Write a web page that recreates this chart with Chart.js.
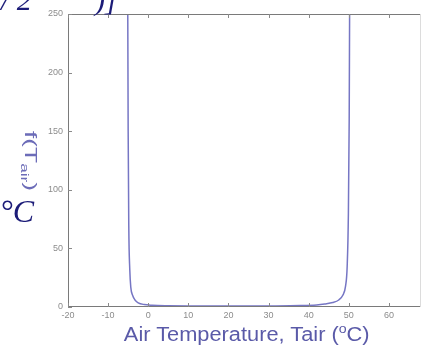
<!DOCTYPE html>
<html>
<head>
<meta charset="utf-8">
<script src="https://cdn.jsdelivr.net/npm/chart.js@4.4.1/dist/chart.umd.min.js"></script>
<style>
  html, body { margin: 0; padding: 0; background: #fff; overflow: hidden; }
  #wrap { position: relative; width: 423px; height: 353px; }
  canvas { position: absolute; left: 0; top: 0; }
  .eq { position: absolute; font-family: "Liberation Serif", "DejaVu Serif", serif; font-style: italic; color: #1c1c78; white-space: nowrap; }
  #ylab { position: absolute; left: 40px; top: 131px; font-family: "Liberation Sans", Arial, sans-serif; font-size: 17px; line-height: 20px; color: #6c6cb8; transform-origin: 0 0; transform: rotate(90deg) scaleX(1.55); white-space: nowrap; }
  #ylab sub { font-size: 11px; }
  #xlab { position: absolute; left: 0; width: 423px; top: 321px; padding-left: 70px; box-sizing: border-box; text-align: center; font-family: "Liberation Sans", Arial, sans-serif; font-size: 20px; color: #5a5aa8; white-space: nowrap; }
  #xlab span { display: inline-block; transform: scaleX(1.09); }
  #xlab sup { font-size: 13px; }
</style>
</head>
<body>
<div id="wrap">
  <canvas id="c" width="423" height="353"></canvas>
  <div class="eq" style="left:1px; top:-17px; font-size:30px;">/ 2</div>
  <div class="eq" style="left:95px; top:-17px; font-size:30px;">)]</div>
  <div class="eq" style="left:0px; top:193px; font-size:32px;">°C</div>
  <div id="ylab">f(T<sub>air</sub>)</div>
  <div id="xlab"><span>Air Temperature, Tair (<sup>o</sup>C)</span></div>
</div>
<script>
const airTemp = [-5.2, -5.1, -5.0, -4.85, -4.6, -4.35, -3.9, -3.3, -2.5, -1.0, 1.0, 5, 10, 20, 30, 38, 42, 44, 46, 47.5, 48.5, 49.2, 49.6, 49.9, 50.1, 50.2, 50.3];
const fValues = [320, 250, 150, 70, 32, 17, 10, 6, 3.6, 2.1, 1.5, 1.1, 0.9, 0.8, 0.9, 1.2, 1.8, 2.6, 3.8, 6, 10, 18, 35, 80, 160, 250, 320];
const xTicks = [-20, -10, 0, 10, 20, 30, 40, 50, 60];
const yTicks = [0, 50, 100, 150, 200, 250];

const points = airTemp.map((t, i) => ({ x: t, y: fValues[i] }));

const frameAndTicks = {
  id: 'frameAndTicks',
  afterDraw(chart) {
    const ctx = chart.ctx, a = chart.chartArea;
    const xs = chart.scales.x, ys = chart.scales.y;
    ctx.save();
    ctx.strokeStyle = '#7a7a7a';
    ctx.lineWidth = 1;
    ctx.beginPath();
    ctx.moveTo(a.left + 0.5, a.top + 0.5);
    ctx.lineTo(a.right - 0.5, a.top + 0.5);
    ctx.moveTo(a.left + 0.5, a.top);
    ctx.lineTo(a.left + 0.5, a.bottom);
    ctx.moveTo(a.left, a.bottom - 0.5);
    ctx.lineTo(a.right, a.bottom - 0.5);
    ctx.stroke();
    ctx.strokeStyle = '#dcdcdc';
    ctx.beginPath();
    ctx.moveTo(a.right - 0.5, a.top);
    ctx.lineTo(a.right - 0.5, a.bottom);
    ctx.stroke();
    ctx.strokeStyle = '#8a8a8a';
    ctx.beginPath();
    xTicks.forEach(v => {
      const px = Math.round(xs.getPixelForValue(v)) + 0.5;
      ctx.moveTo(px, a.bottom); ctx.lineTo(px, a.bottom - 4);
      ctx.moveTo(px, a.top); ctx.lineTo(px, a.top + 4);
    });
    yTicks.forEach(v => {
      const py = Math.round(ys.getPixelForValue(v)) + 0.5;
      ctx.moveTo(a.left, py); ctx.lineTo(a.left + 4, py);
    });
    ctx.stroke();
    ctx.restore();
  }
};

new Chart(document.getElementById('c'), {
  type: 'line',
  data: {
    datasets: [{
      data: points,
      borderColor: '#7676c4',
      borderWidth: 1.5,
      pointRadius: 0,
      fill: false,
      cubicInterpolationMode: 'monotone'
    }]
  },
  options: {
    responsive: false,
    animation: false,
    events: [],
    layout: { padding: { left: 0, right: 2, top: 14, bottom: 0 } },
    plugins: { legend: { display: false }, tooltip: { enabled: false } },
    scales: {
      x: {
        type: 'linear',
        min: -20, max: 68,
        afterBuildTicks(s) { s.ticks = xTicks.map(v => ({ value: v })); },
        afterFit(s) { s.height = 46; },
        grid: { display: false, drawTicks: false },
        border: { display: false },
        ticks: { color: '#8c8c8c', font: { size: 9, family: 'Liberation Sans' }, padding: 3, maxRotation: 0, autoSkip: false }
      },
      y: {
        type: 'linear',
        min: 0, max: 250,
        afterBuildTicks(s) { s.ticks = yTicks.map(v => ({ value: v })); },
        afterFit(s) { s.width = 68; },
        grid: { display: false, drawTicks: false },
        border: { display: false },
        ticks: { color: '#8c8c8c', font: { size: 9, family: 'Liberation Sans' }, padding: 5 }
      }
    }
  },
  plugins: [frameAndTicks]
});
</script>
</body>
</html>
